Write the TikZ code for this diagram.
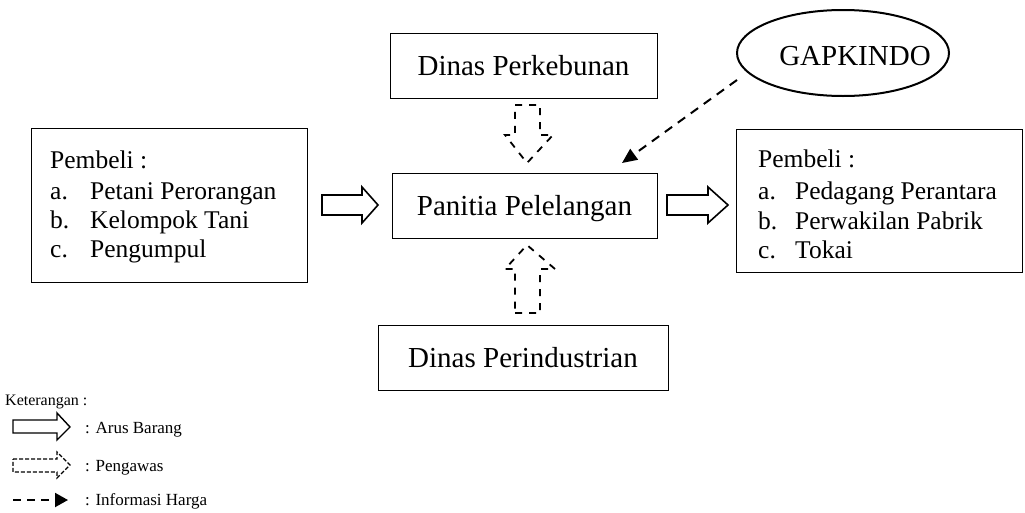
\documentclass[tikz,border=0pt]{standalone}
\usepackage{fontspec}
\setmainfont{Liberation Serif}
\usetikzlibrary{shapes.geometric,arrows.meta,calc}
\begin{document}
\begin{tikzpicture}[x=1pt,y=-1pt,
  bigbox/.style={draw,line width=0.9pt,inner sep=0pt,minimum height=65pt,text height=20pt,text depth=0pt,font=\fontsize{29}{34}\selectfont},
  bigtext/.style={inner sep=0pt,anchor=base,font=\fontsize{29}{34}\selectfont},
  listbox/.style={draw,line width=0.9pt,inner sep=0pt},
  listtext/.style={anchor=base west,inner sep=0pt,font=\fontsize{25.5}{30}\selectfont},
  legtext/.style={anchor=base west,inner sep=0pt,font=\fontsize{17}{20}\selectfont},
  flowarrow/.style={draw,line width=1.6pt,line join=miter},
  supervarrow/.style={draw,line width=1.8pt,dash pattern=on 7pt off 7pt},
  infoarrow/.style={draw,line width=2pt,dash pattern=on 9pt off 7pt,-{Triangle[length=15pt,width=13pt]}}
]
\useasboundingbox (0,0) rectangle (1025,512);

% main boxes
\node[bigbox,minimum width=267pt] (kebun) at (523.5,65.5) {Dinas Perkebunan};
\node[bigbox,minimum width=265pt] (panitia) at (524.5,205.5) {Panitia Pelelangan};
\node[bigbox,minimum width=290pt] (industri) at (523,357.5) {Dinas Perindustrian};
\node[draw,ellipse,line width=2pt,minimum width=212pt,minimum height=86pt,inner sep=0pt] (gap) at (843,53) {};
\node[bigtext] (gaptext) at (855,65) {GAPKINDO};

% list boxes
\node[listbox,minimum width=276pt,minimum height=154pt] (kiri) at (169,205) {};
\node[listbox,minimum width=286pt,minimum height=143pt] (kanan) at (879,200.5) {};

\node[listtext] (k0) at (50,168) {Pembeli :};
\node[listtext] (ka) at (50,199) {a.};
\node[listtext] (kat) at (90,199) {Petani Perorangan};
\node[listtext] (kb) at (50,228) {b.};
\node[listtext] (kbt) at (90,228) {Kelompok Tani};
\node[listtext] (kc) at (50,257) {c.};
\node[listtext] (kct) at (90,257) {Pengumpul};

\node[listtext] (r0) at (758,167) {Pembeli :};
\node[listtext] (ra) at (758,199) {a.};
\node[listtext] (rat) at (795,199) {Pedagang Perantara};
\node[listtext] (rb) at (758,229) {b.};
\node[listtext] (rbt) at (795,229) {Perwakilan Pabrik};
\node[listtext] (rc) at (758,258) {c.};
\node[listtext] (rct) at (795,258) {Tokai};

% flow arrows (Arus Barang)
\draw[flowarrow] (322,195) -- (362,195) -- (362,187) -- (378,205) -- (362,223) -- (362,215) -- (322,215) -- cycle;
\draw[flowarrow] (667,195) -- (708,195) -- (708,187) -- (728,205) -- (708,223) -- (708,215) -- (667,215) -- cycle;

% supervision arrows (Pengawas)
\draw[supervarrow] (515,105) -- (540,105) -- (540,135) -- (553,135) -- (527,163) -- (505,135) -- (515,135) -- cycle;
\draw[supervarrow] (515,313) -- (540,313) -- (540,269) -- (555,269) -- (527,245) -- (505,269) -- (515,269) -- cycle;

% price information
\coordinate (infoend) at (622,163);
\draw[infoarrow] ($(gap.west)+(1,27)$) -- (infoend);

% legend
\node[legtext,font=\fontsize{16}{19}\selectfont] (ket) at (5,405) {Keterangan :};
\draw[line width=1.4pt,line join=miter] (13,420) -- (57,420) -- (57,413) -- (70,427) -- (57,440) -- (57,433) -- (13,433) -- cycle;
\node[legtext] (l1) at (85,433) {: Arus Barang};
\draw[line width=1.1pt,dash pattern=on 4pt off 2pt] (13,459) -- (57,459) -- (57,452) -- (70,465) -- (57,478) -- (57,472) -- (13,472) -- cycle;
\node[legtext] (l2) at (85,471) {: Pengawas};
\coordinate (ia) at (13,500);
\coordinate (ib) at (68,500);
\draw[line width=2pt,dash pattern=on 8pt off 6pt,-{Triangle[length=13pt,width=14pt]}] (ia) -- (ib);
\node[legtext] (l3) at (85,505) {: Informasi Harga};
\end{tikzpicture}
\end{document}
